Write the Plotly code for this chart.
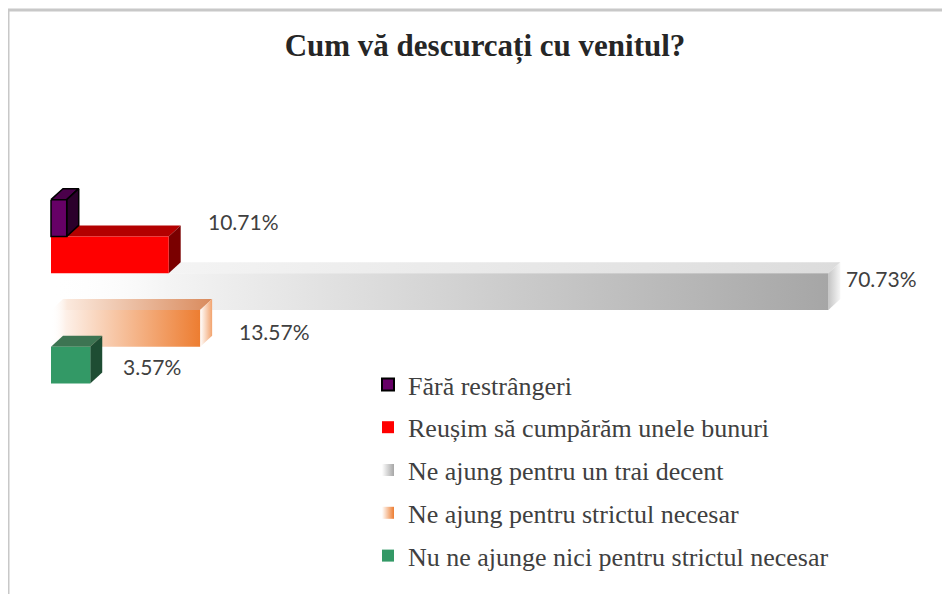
import plotly.graph_objects as go

# ---------------- data ----------------
categories = [
    "Fără restrângeri",
    "Reușim să cumpărăm unele bunuri",
    "Ne ajung pentru un trai decent",
    "Ne ajung pentru strictul necesar",
    "Nu ne ajunge nici pentru strictul necesar",
]
values = [1.43, 10.71, 70.73, 13.57, 3.57]
show_label = [False, True, True, True, True]
title_text = "Cum vă descurcați cu venitul?"

# ---------------- style ----------------
W, H = 950, 594
PAGE_OFF = 8  # default page margin around the figure
X0_PX, PX_PER_PCT = 51 - PAGE_OFF, 10.99
Y0_PX, PX_PER_ROW = 218 - PAGE_OFF, 36.75
DX = 12 / PX_PER_PCT
DY = 11 / PX_PER_ROW

TRANSP = "rgba(255,255,255,0)"
styles = [
    dict(front="#660066", top="#4a004a", side="#2b002b", line="#000000", lw=1.5),
    dict(front="#ff0000", top="#b30000", side="#7a0000", line=None, lw=0),
    dict(front=[[0, TRANSP], [0.15, "#f4f4f4"], [1, "#a6a6a6"]],
         top=[[0, TRANSP], [0.15, "#f4f4f4"], [1, "#dcdcdc"]],
         side=[[0, "#c4c4c4"], [1, "#f6f6f6"]], line=None, lw=0),
    dict(front=[[0, TRANSP], [0.1, "#fdf0e8"], [1, "#ed7d31"]],
         top=[[0, TRANSP], [0.1, "#fbe9dd"], [1, "#d98a5c"]],
         side=[[0, "#ffffff"], [1, "#f2a36e"]], line=None, lw=0),
    dict(front="#339966", top="#3d7452", side="#1e4d33", line=None, lw=0),
]
legend_marker = [
    dict(color="#660066", line=dict(color="#000000", width=1.5)),
    dict(color="#ff0000"),
    dict(color="#ffffff", gradient=dict(type="horizontal", color="#a6a6a6")),
    dict(color="#ffffff", gradient=dict(type="horizontal", color="#ed7d31")),
    dict(color="#339966"),
]
label_shift = [(0, 0), (25, 33), (4, 13), (25, -3), (19, -1)]
draw_order = [2, 3, 4, 1, 0]

fig = go.Figure()


def face(xs, ys, fill, line, lw):
    kw = dict(x=xs, y=ys, mode="lines", fill="toself", showlegend=False,
              hoverinfo="skip",
              line=dict(width=lw, color=line if line else "rgba(0,0,0,0)"))
    if isinstance(fill, list):
        kw["fillcolor"] = fill[-1][1]
        kw["fillgradient"] = dict(type="horizontal", colorscale=fill)
    else:
        kw["fillcolor"] = fill
    fig.add_trace(go.Scatter(**kw))


for i in draw_order:
    v = values[i]
    s = styles[i]
    top_y = i - 0.5
    bot_y = i + 0.5
    face([0, v, v + DX, DX, 0], [top_y, top_y, top_y - DY, top_y - DY, top_y],
         s["top"], s["line"], s["lw"])
    face([v, v + DX, v + DX, v, v], [top_y, top_y - DY, bot_y - DY, bot_y, top_y],
         s["side"], s["line"], s["lw"])
    face([0, v, v, 0, 0], [top_y, top_y, bot_y, bot_y, top_y],
         s["front"], s["line"], s["lw"])

# legend entries
for i, cat in enumerate(categories):
    fig.add_trace(go.Scatter(
        x=[None], y=[None], mode="markers", name=cat, legendgroup=cat,
        marker=dict(symbol="square", size=12, **legend_marker[i]),
    ))

# data labels
for i, v in enumerate(values):
    if not show_label[i]:
        continue
    fig.add_annotation(
        x=v + DX, y=i, text=f"{v:.2f}%", showarrow=False, xanchor="left",
        yanchor="middle", xshift=label_shift[i][0], yshift=label_shift[i][1],
        font=dict(family="Lato", size=21, color="#404040"),
    )

fig.update_layout(
    width=W, height=H,
    margin=dict(l=0, r=0, t=0, b=0),
    paper_bgcolor="white", plot_bgcolor="white",
    xaxis=dict(range=[-X0_PX / PX_PER_PCT, (W - X0_PX) / PX_PER_PCT],
               visible=False, fixedrange=True),
    yaxis=dict(range=[(H - Y0_PX) / PX_PER_ROW, -Y0_PX / PX_PER_ROW],
               visible=False, fixedrange=True),
    title=dict(text=f"<b>{title_text}</b>", x=(485 - PAGE_OFF) / W, xanchor="center",
               y=1 - (45 - PAGE_OFF) / H, yanchor="middle",
               font=dict(family="Liberation Serif", size=31, color="#262626")),
    legend=dict(x=(367 + 1 - PAGE_OFF) / W, xanchor="left",
                y=1 - (361 - PAGE_OFF) / H, yanchor="top",
                font=dict(family="Liberation Serif", size=26, color="#404040"),
                tracegroupgap=6, bgcolor="rgba(0,0,0,0)", itemsizing="constant"),
    shapes=[dict(type="rect", xref="paper", yref="paper",
                 x0=0, y0=1 - (10 - PAGE_OFF) / H, x1=1.05, y1=-0.05,
                 line=dict(color="#c8c8c8", width=3), layer="below")],
    showlegend=True,
)

fig.write_html("out.html")
